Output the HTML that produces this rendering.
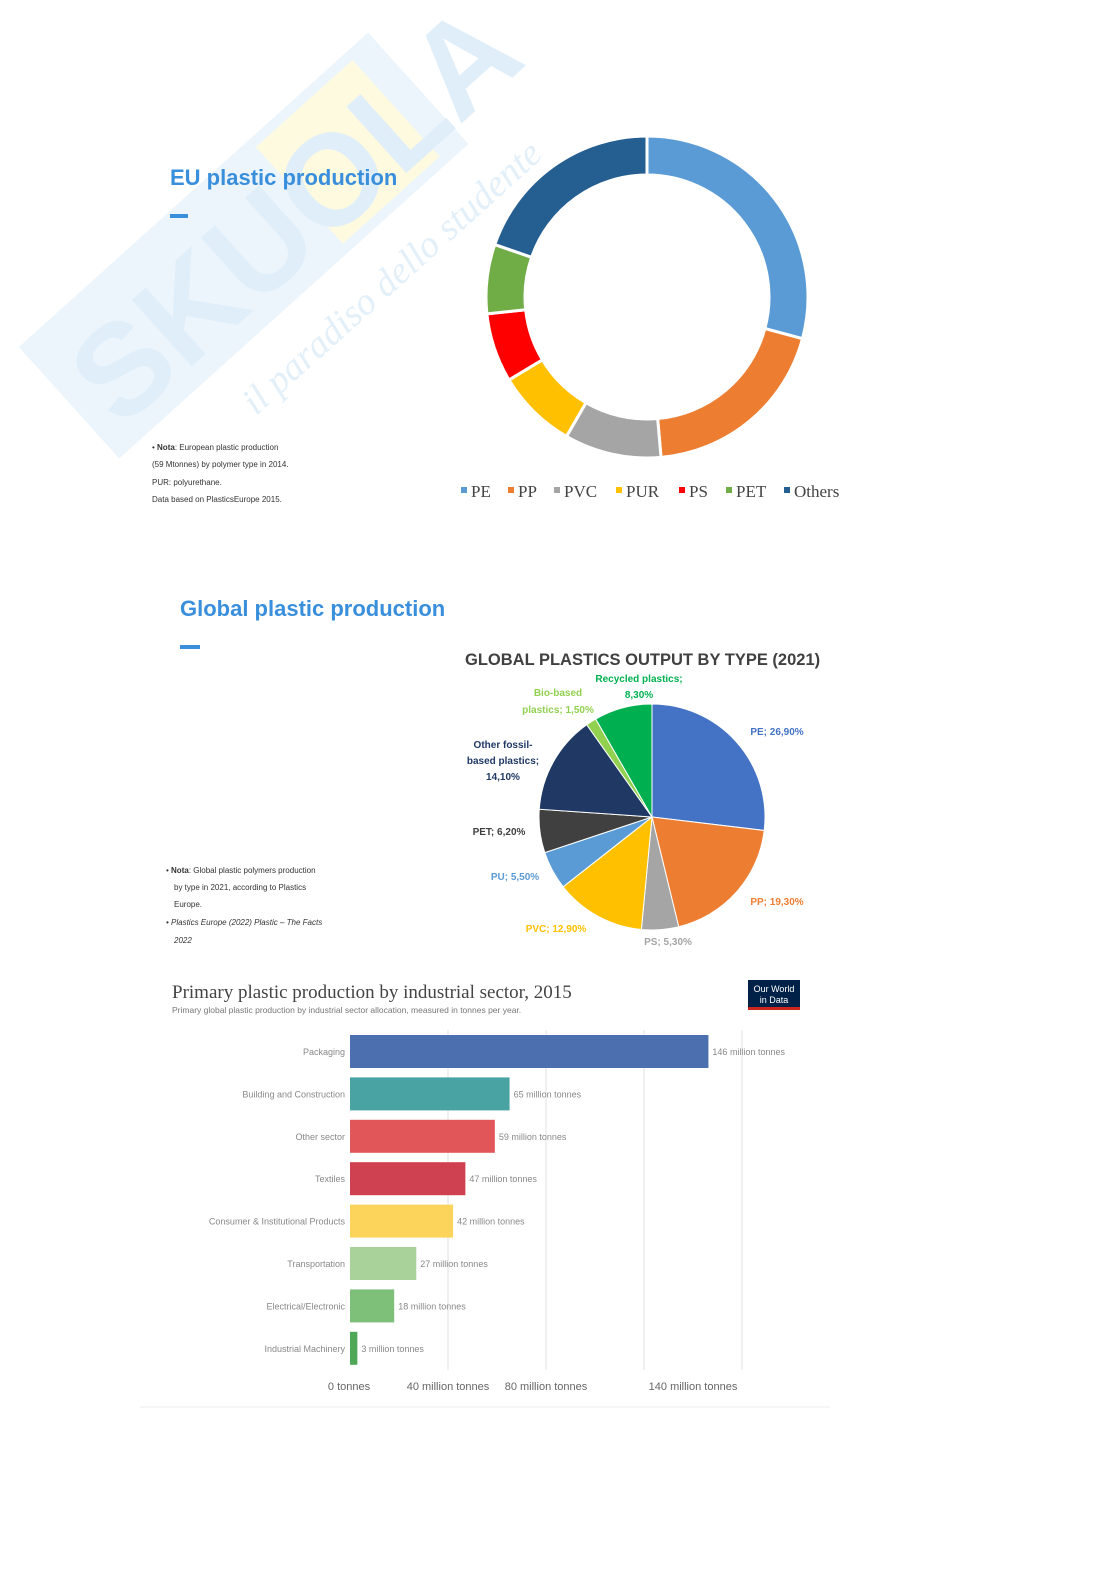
<!DOCTYPE html>
<html><head><meta charset="utf-8"><style>
html,body{margin:0;padding:0;background:#fff}
body{width:1118px;height:1579px;position:relative;overflow:hidden;font-family:"Liberation Sans",sans-serif}
</style></head><body>
<svg id="s" width="1118" height="1579" viewBox="0 0 1118 1579" xmlns="http://www.w3.org/2000/svg" style="position:absolute;left:0;top:0">
<g transform="rotate(-42 250 260)">
 <rect x="20" y="170" width="470" height="150" fill="#edf5fc"/>
 <rect x="330" y="180" width="130" height="130" fill="#fefae0"/>
 <text x="40" y="300" font-size="130" font-weight="bold" fill="#e0eef9" font-family="Liberation Sans">SKUOLA</text>
 <text x="150" y="380" font-size="38" fill="#e3eff9" font-style="italic" font-family="Liberation Serif">il paradiso dello studente</text>
</g>
<text x="170" y="185" font-size="22" font-weight="bold" fill="#3a8fdc">EU plastic production</text>
<rect x="170" y="214" width="18" height="4" fill="#3a8fdc"/>
<g font-size="8" fill="#333">
<text x="152" y="450">• <tspan font-weight="bold">Nota</tspan>: European plastic production</text>
<text x="152" y="467">(59 Mtonnes) by polymer type in 2014.</text>
<text x="152" y="485">PUR: polyurethane.</text>
<text x="152" y="502">Data based on PlasticsEurope 2015.</text>
</g>
<g id="donut"></g>
<g font-family="Liberation Serif" font-size="17" fill="#444">
<rect x="461" y="487" width="6" height="6" fill="#5b9bd5"/><text x="471" y="497">PE</text>
<rect x="508" y="487" width="6" height="6" fill="#ed7d31"/><text x="518" y="497">PP</text>
<rect x="554" y="487" width="6" height="6" fill="#a5a5a5"/><text x="564" y="497">PVC</text>
<rect x="616" y="487" width="6" height="6" fill="#ffc000"/><text x="626" y="497">PUR</text>
<rect x="679" y="487" width="6" height="6" fill="#ff0000"/><text x="689" y="497">PS</text>
<rect x="726" y="487" width="6" height="6" fill="#70ad47"/><text x="736" y="497">PET</text>
<rect x="784" y="487" width="6" height="6" fill="#255e91"/><text x="794" y="497">Others</text>
</g>
<text x="180" y="616" font-size="22" font-weight="bold" fill="#3a8fdc">Global plastic production</text>
<rect x="180" y="645" width="20" height="4" fill="#3a8fdc"/>
<g font-size="8" fill="#333">
<text x="166" y="873">• <tspan font-weight="bold">Nota</tspan>: Global plastic polymers production</text>
<text x="174" y="890">by type in 2021, according to Plastics</text>
<text x="174" y="907">Europe.</text>
<text x="166" y="925" font-style="italic">• Plastics Europe (2022) Plastic – The Facts</text>
<text x="174" y="943" font-style="italic">2022</text>
</g>
<text x="465" y="665" font-size="16.5" font-weight="bold" fill="#404040">GLOBAL PLASTICS OUTPUT BY TYPE (2021)</text>
<g id="pie"></g>
<g font-size="10" font-weight="bold" text-anchor="middle">
<text x="639" y="682" fill="#00b050">Recycled plastics;</text><text x="639" y="698" fill="#00b050">8,30%</text>
<text x="558" y="696" fill="#92d050">Bio-based</text><text x="558" y="713" fill="#92d050">plastics; 1,50%</text>
<text x="503" y="748" fill="#203864">Other fossil-</text><text x="503" y="764" fill="#203864">based plastics;</text><text x="503" y="780" fill="#203864">14,10%</text>
<text x="499" y="835" fill="#404040">PET; 6,20%</text>
<text x="515" y="880" fill="#5b9bd5">PU; 5,50%</text>
<text x="556" y="932" fill="#ffc000">PVC; 12,90%</text>
<text x="668" y="945" fill="#a5a5a5">PS; 5,30%</text>
<text x="777" y="905" fill="#ed7d31">PP; 19,30%</text>
<text x="777" y="735" fill="#4472c4">PE; 26,90%</text>
</g>
<text x="172" y="998" font-family="Liberation Serif" font-size="19" fill="#444">Primary plastic production by industrial sector, 2015</text>
<text x="172" y="1013" font-size="8.5" fill="#777">Primary global plastic production by industrial sector allocation, measured in tonnes per year.</text>
<rect x="748" y="980" width="52" height="27" fill="#002147"/>
<rect x="748" y="1007" width="52" height="3" fill="#ce261e"/>
<text x="774" y="992" font-size="9" fill="#fff" text-anchor="middle">Our World</text>
<text x="774" y="1003" font-size="9" fill="#fff" text-anchor="middle">in Data</text>
<g stroke="#e2e2e2" stroke-width="1">
<line x1="448" y1="1030" x2="448" y2="1370"/><line x1="546" y1="1030" x2="546" y2="1370"/><line x1="644" y1="1030" x2="644" y2="1370"/><line x1="742" y1="1030" x2="742" y2="1370"/>
</g>
<g id="bars" font-size="9" fill="#888"></g>
<g font-size="11" fill="#666" text-anchor="middle">
<text x="349" y="1390">0 tonnes</text><text x="448" y="1390">40 million tonnes</text><text x="546" y="1390">80 million tonnes</text><text x="693" y="1390">140 million tonnes</text>
</g>
<line x1="140" y1="1407" x2="830" y2="1407" stroke="#eee"/>
</svg>
<script>
var NS="http://www.w3.org/2000/svg";
function pt(cx,cy,r,a){a=(a-90)*Math.PI/180;return [cx+r*Math.cos(a),cy+r*Math.sin(a)];}
function seg(cx,cy,ro,ri,a0,a1,col,g){var l=(a1-a0)>180?1:0;var p1=pt(cx,cy,ro,a0),p2=pt(cx,cy,ro,a1),d;
if(ri>0){var p3=pt(cx,cy,ri,a1),p4=pt(cx,cy,ri,a0);d="M"+p1+"A"+ro+","+ro+" 0 "+l+" 1 "+p2+"L"+p3+"A"+ri+","+ri+" 0 "+l+" 0 "+p4+"Z";}
else d="M"+cx+","+cy+"L"+p1+"A"+ro+","+ro+" 0 "+l+" 1 "+p2+"Z";
var e=document.createElementNS(NS,"path");e.setAttribute("d",d);e.setAttribute("fill",col);e.setAttribute("stroke","#fff");e.setAttribute("stroke-width","3");g.appendChild(e);}
var g=document.getElementById("donut");
var dd=[[0,105,"#5b9bd5"],[105,175,"#ed7d31"],[175,210,"#a5a5a5"],[210,239,"#ffc000"],[239,264,"#ff0000"],[264,289,"#70ad47"],[289,360,"#255e91"]];
dd.forEach(function(s){seg(647,297,161,122,s[0],s[1],s[2],g);});
var gp=document.getElementById("pie");var vals=[[26.9,"#4472c4"],[19.3,"#ed7d31"],[5.3,"#a5a5a5"],[12.9,"#ffc000"],[5.5,"#5b9bd5"],[6.2,"#404040"],[14.1,"#203864"],[1.5,"#92d050"],[8.3,"#00b050"]];
var a=0;vals.forEach(function(v){var b=a+v[0]*3.6;seg(652,817,113,0,a,b,v[1],gp);a=b;});
gp.querySelectorAll("path").forEach(function(p){p.setAttribute("stroke-width","1");});
var gb=document.getElementById("bars");
var bars=[["Packaging",146,"#4c6fb0","146 million tonnes"],["Building and Construction",65,"#4aa3a3","65 million tonnes"],["Other sector",59,"#e15759","59 million tonnes"],["Textiles",47,"#cf4150","47 million tonnes"],["Consumer & Institutional Products",42,"#fcd45c","42 million tonnes"],["Transportation",27,"#a9d19a","27 million tonnes"],["Electrical/Electronic",18,"#7ebf7a","18 million tonnes"],["Industrial Machinery",3,"#4ea858","3 million tonnes"]];
bars.forEach(function(b,i){var y=1035+i*42.4,w=b[1]*2.455;
var r=document.createElementNS(NS,"rect");r.setAttribute("x",350);r.setAttribute("y",y);r.setAttribute("width",w);r.setAttribute("height",33);r.setAttribute("fill",b[2]);gb.appendChild(r);
var t=document.createElementNS(NS,"text");t.setAttribute("x",345);t.setAttribute("y",y+20);t.setAttribute("text-anchor","end");t.textContent=b[0];gb.appendChild(t);
var t2=document.createElementNS(NS,"text");t2.setAttribute("x",354+w);t2.setAttribute("y",y+20);t2.textContent=b[3];gb.appendChild(t2);});
</script>
</body></html>
